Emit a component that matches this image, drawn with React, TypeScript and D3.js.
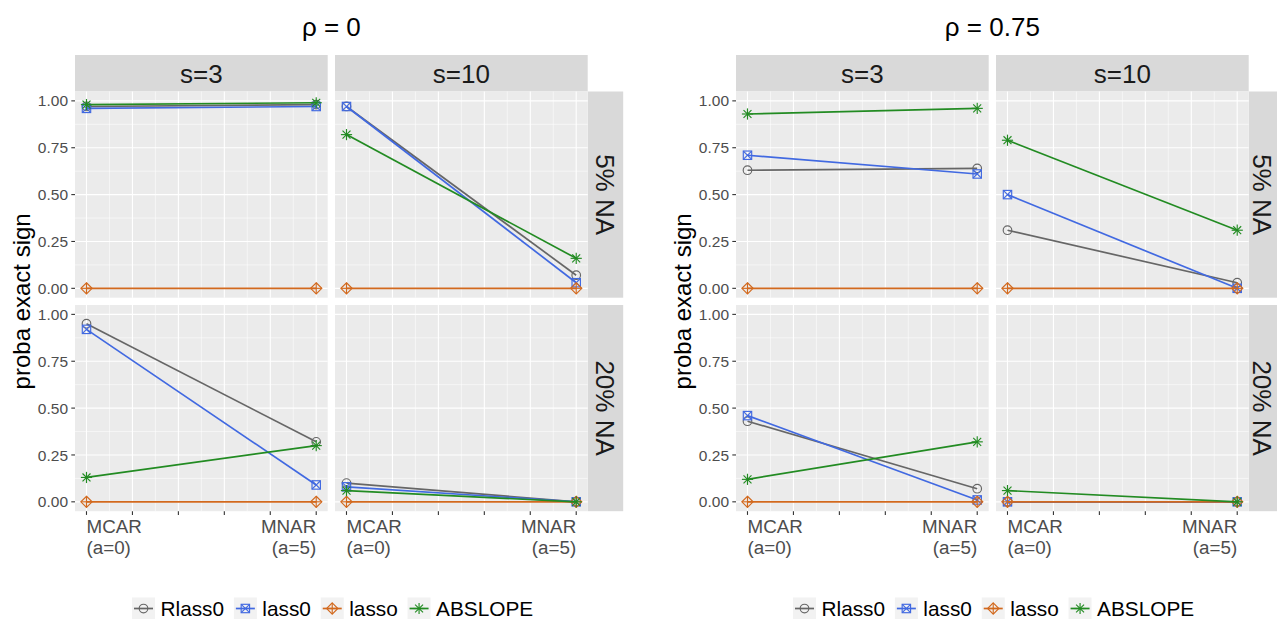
import React from "react";
import * as d3 from "d3";

// ---------- data ----------
const methods = ["Rlass0", "lass0", "lasso", "ABSLOPE"];
const methodColors = ["#666666", "#4169E1", "#D2691E", "#228B22"];
const methodShapes = ["circle", "squareX", "diamondPlus", "asterisk"];

const rhoTitles = ["ρ = 0", "ρ = 0.75"];
const sLabels = ["s=3", "s=10"];
const naLabels = ["5% NA", "20% NA"];

const xValues = [0, 5]; // MCAR (a=0), MNAR (a=5)
const xTickLabels = [
  ["MCAR", "(a=0)"],
  ["MNAR", "(a=5)"],
];
const yTicks = [0, 0.25, 0.5, 0.75, 1];
const yTickLabels = ["0.00", "0.25", "0.50", "0.75", "1.00"];

// each panel: one [MCAR, MNAR] pair per method (Rlass0, lass0, lasso, ABSLOPE)
const rho0_na5_s3 = [[0.97, 0.98], [0.96, 0.97], [0, 0], [0.98, 0.99]];
const rho0_na5_s10 = [[0.97, 0.07], [0.97, 0.03], [0, 0], [0.82, 0.16]];
const rho0_na20_s3 = [[0.95, 0.32], [0.92, 0.09], [0, 0], [0.13, 0.3]];
const rho0_na20_s10 = [[0.1, 0], [0.08, 0], [0, 0], [0.06, 0]];
const rho75_na5_s3 = [[0.63, 0.64], [0.71, 0.61], [0, 0], [0.93, 0.96]];
const rho75_na5_s10 = [[0.31, 0.03], [0.5, 0], [0, 0], [0.79, 0.31]];
const rho75_na20_s3 = [[0.43, 0.07], [0.46, 0.01], [0, 0], [0.12, 0.32]];
const rho75_na20_s10 = [[0, 0], [0, 0], [0, 0], [0.06, 0]];

const panelData = [
  [
    [rho0_na5_s3, rho0_na5_s10],
    [rho0_na20_s3, rho0_na20_s10],
  ],
  [
    [rho75_na5_s3, rho75_na5_s10],
    [rho75_na20_s3, rho75_na20_s10],
  ],
];

// ---------- layout ----------
const W = 1277;
const H = 619;
const FONT = "'Liberation Sans', Arial, Helvetica, sans-serif";
const plotOffsets = [0, 661];
const colLefts = [75, 335];
const panelW = 252.7;
const rowTops = [91.5, 305];
const panelH = 206.2;
const stripTop = 55;
const stripH = 36.5;
const rightStripW = 35.5;
const legendStarts = [132, 793];
const legendY = 608.5;
const LEG_FONT = 20.8;

const xScale = d3.scaleLinear().domain([-0.25, 5.25]).range([0, panelW]);
const yScale = d3.scaleLinear().domain([-0.05, 1.05]).range([panelH, 0]);
const xMajor = d3.range(0, 5.01, 1);
const xMinor = d3.range(0.5, 5, 1);
const yMinor = d3.range(0.125, 1.05, 0.25);

function Marker({ shape, x, y, color }) {
  const sw = 1.15;
  if (shape === "circle") {
    return <circle cx={x} cy={y} r={4.3} fill="none" stroke={color} strokeWidth={sw} />;
  }
  if (shape === "squareX") {
    const h = 4.2;
    return (
      <g stroke={color} strokeWidth={sw} fill="none">
        <rect x={x - h} y={y - h} width={2 * h} height={2 * h} />
        <line x1={x - h} y1={y - h} x2={x + h} y2={y + h} />
        <line x1={x - h} y1={y + h} x2={x + h} y2={y - h} />
      </g>
    );
  }
  if (shape === "diamondPlus") {
    const h = 5.6;
    return (
      <g stroke={color} strokeWidth={sw} fill="none">
        <path d={`M${x},${y - h}L${x + h},${y}L${x},${y + h}L${x - h},${y}Z`} />
        <line x1={x - h} y1={y} x2={x + h} y2={y} />
        <line x1={x} y1={y - h} x2={x} y2={y + h} />
      </g>
    );
  }
  const r = 5.6;
  const d = r * Math.SQRT1_2;
  return (
    <g stroke={color} strokeWidth={sw}>
      <line x1={x - r} y1={y} x2={x + r} y2={y} />
      <line x1={x} y1={y - r} x2={x} y2={y + r} />
      <line x1={x - d} y1={y - d} x2={x + d} y2={y + d} />
      <line x1={x - d} y1={y + d} x2={x + d} y2={y - d} />
    </g>
  );
}

function Panel({ data, tx, ty }) {
  const line = d3
    .line<number>()
    .x((_, i) => xScale(xValues[i]))
    .y((v) => yScale(v));
  return (
    <g transform={`translate(${tx},${ty})`}>
      <rect x={0} y={0} width={panelW} height={panelH} fill="#EBEBEB" />
      {yMinor.map((v) => (
        <line key={"ym" + v} x1={0} x2={panelW} y1={yScale(v)} y2={yScale(v)} stroke="#fff" strokeWidth={0.55} />
      ))}
      {xMinor.map((v) => (
        <line key={"xm" + v} y1={0} y2={panelH} x1={xScale(v)} x2={xScale(v)} stroke="#fff" strokeWidth={0.55} />
      ))}
      {yTicks.map((v) => (
        <line key={"yM" + v} x1={0} x2={panelW} y1={yScale(v)} y2={yScale(v)} stroke="#fff" strokeWidth={1.1} />
      ))}
      {xMajor.map((v) => (
        <line key={"xM" + v} y1={0} y2={panelH} x1={xScale(v)} x2={xScale(v)} stroke="#fff" strokeWidth={1.1} />
      ))}
      {data.map((vals, m) => (
        <g key={"s" + m}>
          <path d={line(vals) || ""} fill="none" stroke={methodColors[m]} strokeWidth={1.7} />
          {vals.map((v, i) => (
            <Marker key={i} shape={methodShapes[m]} x={xScale(xValues[i])} y={yScale(v)} color={methodColors[m]} />
          ))}
        </g>
      ))}
    </g>
  );
}

function measure(text: string, size: number) {
  try {
    const c = document.createElement("canvas").getContext("2d");
    if (c) {
      c.font = `${size}px ${FONT}`;
      return c.measureText(text).width;
    }
  } catch (e) {}
  return text.length * size * 0.55;
}

function Legend({ x0 }) {
  const keyW = 23;
  const keyH = 22;
  let x = x0;
  const items = methods.map((m, i) => {
    const kx = x;
    const tw = measure(m, LEG_FONT);
    x = kx + keyW + 5.5 + tw + 9.8;
    return (
      <g key={m}>
        <rect x={kx} y={legendY - keyH / 2} width={keyW} height={keyH} fill="#F2F2F2" />
        <line x1={kx + 2} x2={kx + keyW - 2} y1={legendY} y2={legendY} stroke={methodColors[i]} strokeWidth={1.7} />
        <Marker shape={methodShapes[i]} x={kx + keyW / 2} y={legendY} color={methodColors[i]} />
        <text x={kx + keyW + 5.5} y={legendY} dy="0.36em" fontSize={LEG_FONT} fill="#000">
          {m}
        </text>
      </g>
    );
  });
  return <g>{items}</g>;
}

function SubPlot({ p }) {
  const off = plotOffsets[p];
  const panelsRight = colLefts[1] + panelW;
  const centerX = off + (colLefts[0] + panelsRight) / 2;
  const rowsCenter = (rowTops[0] + rowTops[1] + panelH) / 2;
  return (
    <g>
      <text x={centerX} y={35.5} textAnchor="middle" fontSize={26} fill="#000">
        {rhoTitles[p]}
      </text>
      {/* top strips */}
      {sLabels.map((s, c) => (
        <g key={s}>
          <rect x={off + colLefts[c]} y={stripTop} width={panelW} height={stripH} fill="#D9D9D9" />
          <text
            x={off + colLefts[c] + panelW / 2}
            y={stripTop + stripH / 2}
            dy="0.36em"
            textAnchor="middle"
            fontSize={26}
            fill="#1A1A1A"
          >
            {s}
          </text>
        </g>
      ))}
      {/* right strips */}
      {naLabels.map((n, r) => {
        const cx = Math.min(off + panelsRight + rightStripW / 2, W - 15);
        const cy = rowTops[r] + panelH / 2;
        return (
          <g key={n}>
            <rect x={off + panelsRight} y={rowTops[r]} width={rightStripW} height={panelH} fill="#D9D9D9" />
            <text
              transform={`translate(${cx},${cy}) rotate(90)`}
              dy="0.36em"
              textAnchor="middle"
              fontSize={26}
              fill="#1A1A1A"
            >
              {n}
            </text>
          </g>
        );
      })}
      {/* panels */}
      {naLabels.map((_, r) =>
        sLabels.map((_, c) => (
          <Panel key={`${r}-${c}`} data={panelData[p][r][c]} tx={off + colLefts[c]} ty={rowTops[r]} />
        ))
      )}
      {/* y axis ticks and labels */}
      {rowTops.map((rt, r) => (
        <g key={"ya" + r}>
          {yTicks.map((v, i) => (
            <g key={v}>
              <line
                x1={off + colLefts[0] - 3.7}
                x2={off + colLefts[0]}
                y1={rt + yScale(v)}
                y2={rt + yScale(v)}
                stroke="#333333"
                strokeWidth={1.1}
              />
              <text
                x={off + colLefts[0] - 7}
                y={rt + yScale(v)}
                dy="0.36em"
                textAnchor="end"
                fontSize={15.5}
                fill="#4D4D4D"
              >
                {yTickLabels[i]}
              </text>
            </g>
          ))}
        </g>
      ))}
      {/* x axis ticks and labels */}
      {colLefts.map((cl, c) => {
        const base = rowTops[1] + panelH;
        return (
          <g key={"xa" + c}>
            {xMajor.map((v) => (
              <line
                key={v}
                x1={off + cl + xScale(v)}
                x2={off + cl + xScale(v)}
                y1={base}
                y2={base + 3.7}
                stroke="#333333"
                strokeWidth={1.1}
              />
            ))}
            {xValues.map((v, i) => (
              <text
                key={v}
                x={off + cl + xScale(v)}
                y={base + 22}
                textAnchor={i === 0 ? "start" : "end"}
                fontSize={18.8}
                fill="#4D4D4D"
              >
                {xTickLabels[i].map((t, k) => (
                  <tspan key={k} x={off + cl + xScale(v)} dy={k === 0 ? 0 : 20.5}>
                    {t}
                  </tspan>
                ))}
              </text>
            ))}
          </g>
        );
      })}
      {/* y title */}
      <text
        transform={`translate(${off + 21},${rowsCenter}) rotate(-90)`}
        dy="0.36em"
        textAnchor="middle"
        fontSize={24}
        fill="#000"
      >
        proba exact sign
      </text>
      <Legend x0={legendStarts[p]} />
    </g>
  );
}

export default function App() {
  return (
    <svg
      width={W}
      height={H}
      viewBox={`0 0 ${W} ${H}`}
      style={{ position: "absolute", left: 0, top: 0, display: "block", background: "#fff" }}
      fontFamily={FONT}
    >
      <rect x={0} y={0} width={W} height={H} fill="#fff" />
      <SubPlot p={0} />
      <SubPlot p={1} />
    </svg>
  );
}
